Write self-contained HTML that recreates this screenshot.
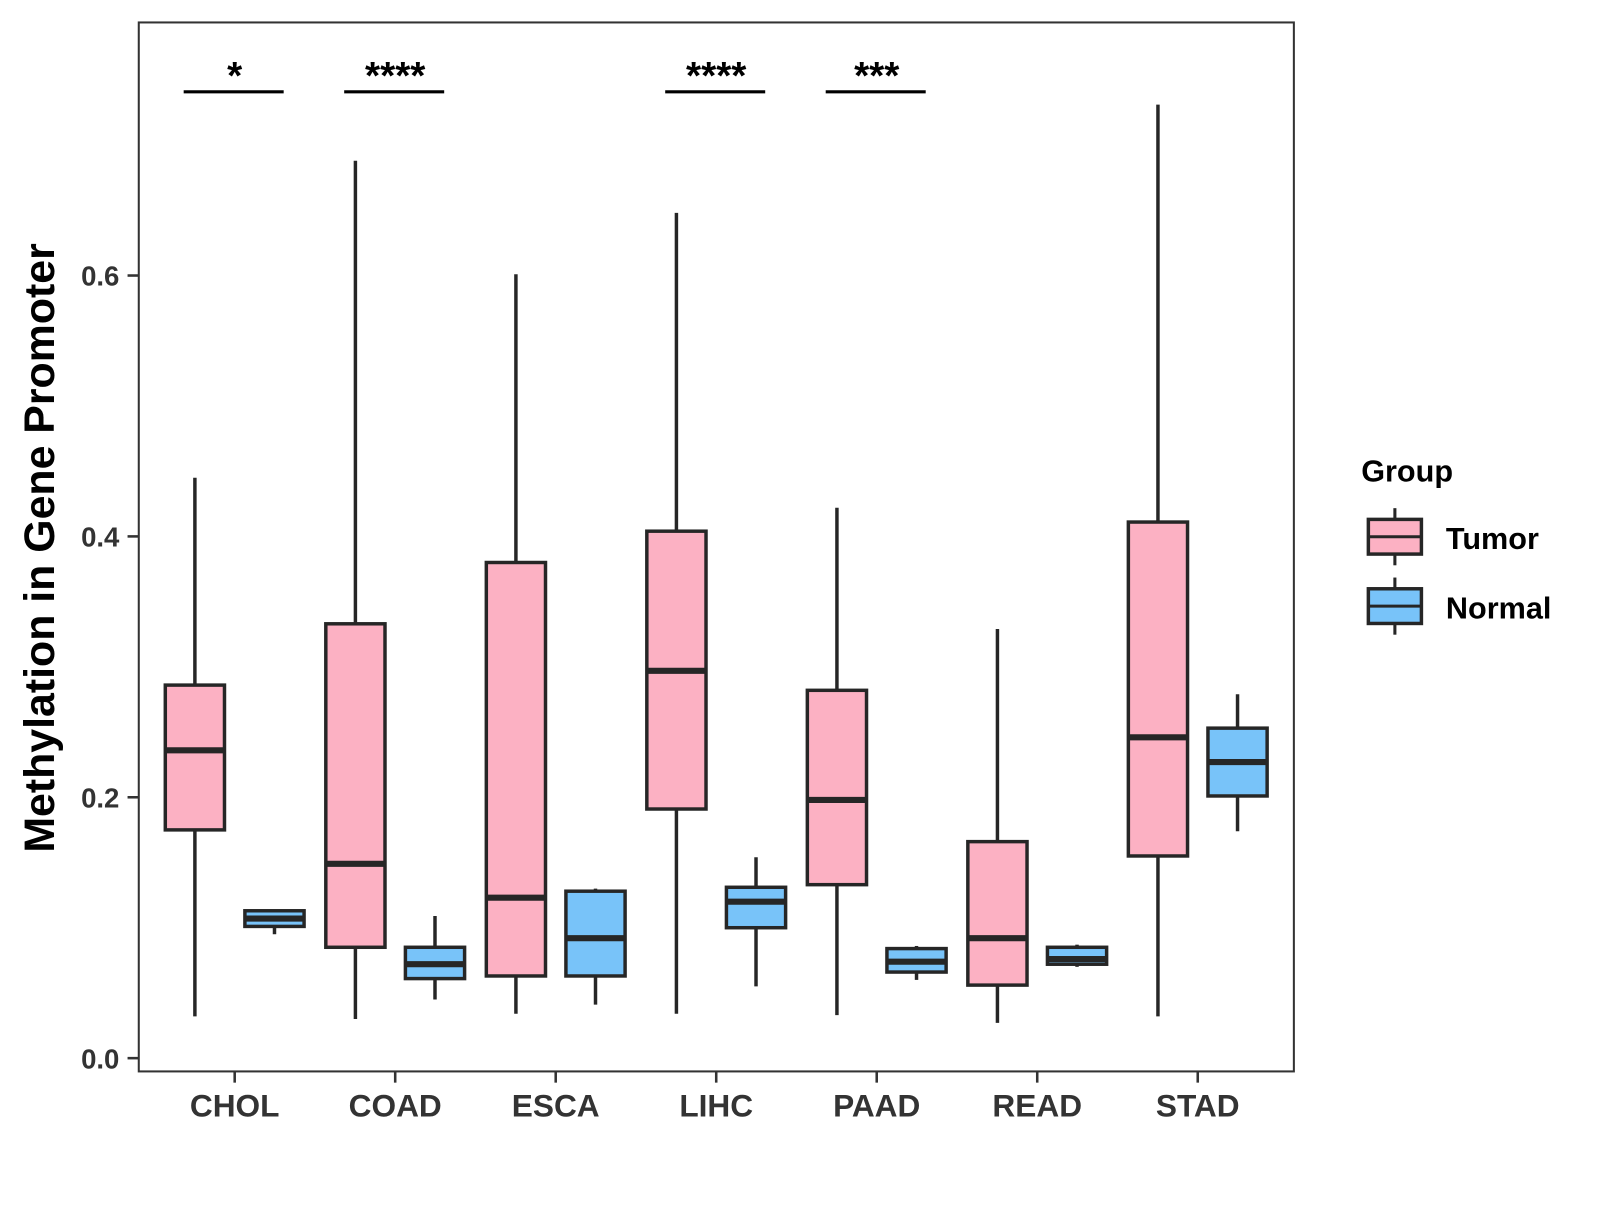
<!DOCTYPE html>
<html><head><meta charset="utf-8"><style>
body{margin:0;background:#fff}
svg text{font-family:"Liberation Sans",Arial,sans-serif;font-weight:bold}
</style></head><body>
<svg id="chart" width="1600" height="1200" viewBox="0 0 1600 1200" xmlns="http://www.w3.org/2000/svg">
<rect x="0" y="0" width="1600" height="1200" fill="#fff"/>
<g transform="scale(1.0204)">
<g id="marks"></g>
<rect x="136" y="22" width="1132" height="1028" fill="none" stroke="#333" stroke-width="2"/>
<text transform="translate(53,537) rotate(-90)" text-anchor="middle" font-size="42" fill="#000">Methylation in Gene Promoter</text>
<g>
<text x="1334" y="472" font-size="30" fill="#000">Group</text>
<g>
<line x1="1367" y1="498" x2="1367" y2="554" stroke="#262626" stroke-width="3"/>
<rect x="1341" y="509" width="52" height="34" fill="#FCB1C3" stroke="#262626" stroke-width="3.4"/>
<line x1="1341" y1="526" x2="1393" y2="526" stroke="#262626" stroke-width="3"/>
<text x="1417" y="538" font-size="30" fill="#000">Tumor</text></g>
<g>
<line x1="1367" y1="566" x2="1367" y2="622" stroke="#262626" stroke-width="3"/>
<rect x="1341" y="577" width="52" height="34" fill="#78C3F9" stroke="#262626" stroke-width="3.4"/>
<line x1="1341" y1="594" x2="1393" y2="594" stroke="#262626" stroke-width="3"/>
<text x="1417" y="606" font-size="30" fill="#000">Normal</text></g>
</g>
</g>
</svg>
<script>
const categories=["CHOL","COAD","ESCA","LIHC","PAAD","READ","STAD"];
const tumorStats=[[0.032,0.175,0.236,0.286,0.445],[0.030,0.085,0.149,0.333,0.688],[0.034,0.063,0.123,0.380,0.601],[0.034,0.191,0.297,0.404,0.648],[0.033,0.133,0.198,0.282,0.422],[0.027,0.056,0.092,0.166,0.329],[0.032,0.155,0.246,0.411,0.731]];
const normalStats=[[0.095,0.101,0.107,0.113,0.113],[0.045,0.061,0.072,0.085,0.109],[0.041,0.063,0.092,0.128,0.130],[0.055,0.100,0.120,0.131,0.154],[0.060,0.066,0.074,0.084,0.086],[0.070,0.072,0.076,0.085,0.087],[0.174,0.201,0.227,0.253,0.279]];
const sigLabels=["*","****","","****","***","",""];
const yTicks=[0,0.2,0.4,0.6];
const yTickLabels=["0.0","0.2","0.4","0.6"];

const NS="http://www.w3.org/2000/svg";
const g=document.getElementById('marks');
function y(v){return 1037-v*1278.3;}
function x(i){return 230+i*157.3;}
function mk(tag,attrs){const e=document.createElementNS(NS,tag);for(const k in attrs)e.setAttribute(k,attrs[k]);g.appendChild(e);return e;}
yTicks.forEach((t,i)=>{
  const l=mk('line',{x1:125,x2:136,y1:y(t),y2:y(t),stroke:'#333','stroke-width':2.5});
  
  
  const tx=mk('text',{x:117,y:y(t)+10,'text-anchor':'end','font-size':27,fill:'#333'});
  tx.textContent=yTickLabels[i];
  
  
});
categories.forEach((c,i)=>{
  const l=mk('line',{x1:x(i),x2:x(i),y1:1050,y2:1061,stroke:'#333','stroke-width':2.5});
  
  
  const tx=mk('text',{x:x(i),y:1094,'text-anchor':'middle','font-size':31,fill:'#333'});
  tx.textContent=c;
  
  
});
function box(cx,s,fill,name){
  const w=58;
  const wl=mk('line',{x1:cx,x2:cx,y1:y(s[0]),y2:y(s[4]),stroke:'#262626','stroke-width':3.4});
  
  
  const r=mk('rect',{x:cx-w/2,y:y(s[3]),width:w,height:y(s[1])-y(s[3]),fill:fill,stroke:'#262626','stroke-width':3.4});
  
  
  const m=mk('line',{x1:cx-w/2,x2:cx+w/2,y1:y(s[2]),y2:y(s[2]),stroke:'#262626','stroke-width':6});
  
  
}
categories.forEach((c,i)=>{
  box(x(i)-39,tumorStats[i],'#FCB1C3',c.toLowerCase()+'-tumor');
  box(x(i)+39,normalStats[i],'#78C3F9',c.toLowerCase()+'-normal');
  if(sigLabels[i]){
    const l=mk('line',{x1:x(i)-50,x2:x(i)+48,y1:90,y2:90,stroke:'#000','stroke-width':3});
    
    
    const t=mk('text',{x:x(i),y:87,'text-anchor':'middle','font-size':38,fill:'#000'});
    t.textContent=sigLabels[i];
    
    
  }
});
</script>
</body></html>
